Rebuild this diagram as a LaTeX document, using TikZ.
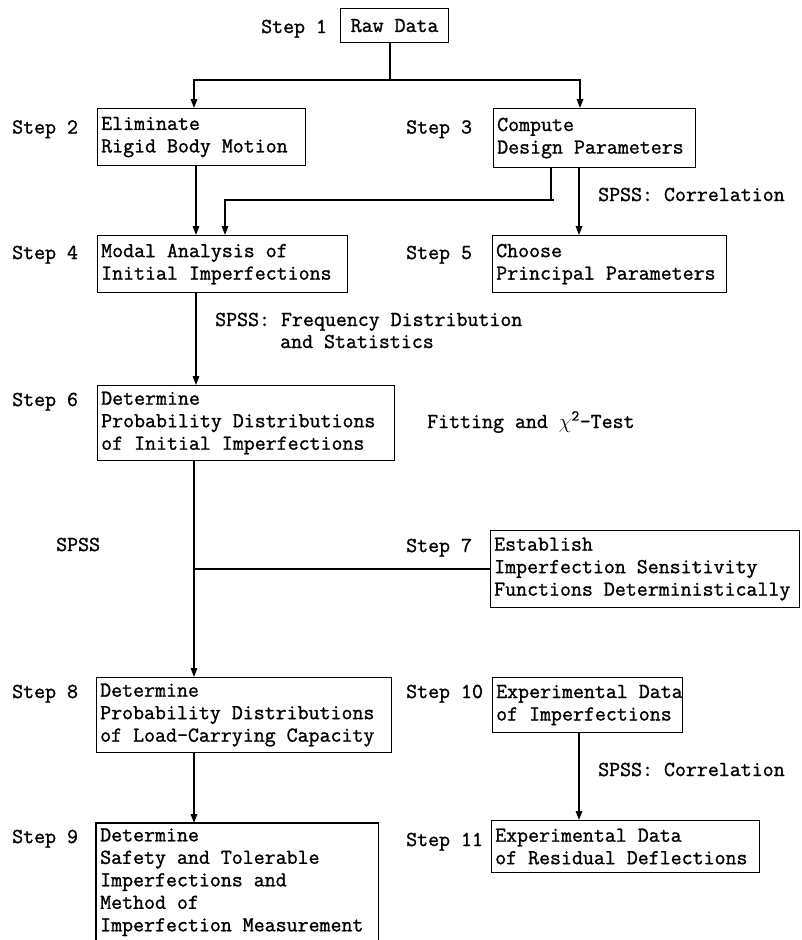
\documentclass[tikz,border=0pt]{standalone}
\usepackage{fontspec}
\newfontfamily\tw{Latin Modern Mono}[FakeBold=1.2]
\usetikzlibrary{arrows.meta}
\begin{document}
\begin{tikzpicture}[x=1pt,y=-1pt,
  font={\tw\fontsize{21.3}{22.5}\selectfont},
  box/.style={draw, line width=1.2pt, inner sep=0pt, anchor=north west},
  txt/.style={anchor=west, align=left, inner sep=0pt, xshift=4pt},
  lbl/.style={anchor=base west, inner sep=0pt},
  ln/.style={line width=1.6pt},
  arr/.style={ln, -{Triangle[length=9pt,width=6.5pt]}}]
\useasboundingbox (0,0) rectangle (801,940);

% boxes
\node[box, minimum width=108pt, minimum height=34pt] (s1) at (340,8) {};
\node[anchor=center, inner sep=0pt] (t1) at (s1.center) {Raw Data};
\node[box, minimum width=208pt, minimum height=57pt] (s2) at (97,108) {};
\node[txt] (t2) at (s2.west) {Eliminate\\Rigid Body Motion};
\node[box, minimum width=202pt, minimum height=59pt] (s3) at (493,108) {};
\node[txt] (t3) at (s3.west) {Compute\\Design Parameters};
\node[box, minimum width=250pt, minimum height=57pt] (s4) at (97,235) {};
\node[txt] (t4) at (s4.west) {Modal Analysis of\\Initial Imperfections};
\node[box, minimum width=234pt, minimum height=57pt] (s5) at (492,235) {};
\node[txt] (t5) at (s5.west) {Choose\\Principal Parameters};
\node[box, minimum width=297pt, minimum height=75pt] (s6) at (97,385) {};
\node[txt] (t6) at (s6.west) {Determine\\Probability Distributions\\of Initial Imperfections};
\node[box, minimum width=309pt, minimum height=77pt] (s7) at (490,530) {};
\node[txt] (t7) at (s7.west) {Establish\\Imperfection Sensitivity\\Functions Deterministically};
\node[box, minimum width=295pt, minimum height=75pt] (s8) at (96,677) {};
\node[txt] (t8) at (s8.west) {Determine\\Probability Distributions\\of Load-Carrying Capacity};
\node[box, minimum width=190pt, minimum height=55pt] (s10) at (492,677) {};
\node[txt] (t10) at (s10.west) {Experimental Data\\of Imperfections};
\node[box, minimum width=268pt, minimum height=52pt] (s11) at (491,820) {};
\node[txt] (t11) at (s11.west) {Experimental Data\\of Residual Deflections};
\node[inner sep=0pt, anchor=north west, minimum width=282pt, minimum height=118pt] (s9) at (96,823) {};
\draw[line width=1.2pt] (s9.south west) -- (s9.north west) -- (s9.north east) -- (s9.south east);
\node[txt] (t9) at (s9.west) {Determine\\Safety and Tolerable\\Imperfections and\\Method of\\Imperfection Measurement};

% step labels
\node[lbl] (l1) at (261,33) {Step 1};
\node[lbl] (l2) at (12,133.5) {Step 2};
\node[lbl] (l3) at (406,133.5) {Step 3};
\node[lbl] (l4) at (12,259) {Step 4};
\node[lbl] (l5) at (406,259) {Step 5};
\node[lbl] (l6) at (12,406) {Step 6};
\node[lbl] (l7) at (406,552) {Step 7};
\node[lbl] (l8) at (12,698) {Step 8};
\node[lbl] (l10) at (406,698) {Step 10};
\node[lbl] (l9) at (12,843) {Step 9};
\node[lbl] (l11) at (406,846) {Step 11};

% annotations
\node[lbl] (a1) at (598,201) {SPSS: Correlation};
\node[lbl] (a2) at (215,326) {SPSS: Frequency Distribution};
\node[lbl] (a3) at (280,348) {and Statistics};
\node[lbl] (a4) at (427,428) {Fitting and $\chi$\textsuperscript{2}-Test};
\node[lbl] (a5) at (56,551) {SPSS};
\node[lbl] (a6) at (598,776) {SPSS: Correlation};

% connectors
\coordinate (x1) at (390,0);
\coordinate (jl) at (194,80);
\coordinate (jr) at (580,80);
\draw[ln] (x1 |- s1.south) -- (x1 |- jl);
\draw[arr] (jr) -- (jl) -- (jl |- s2.north);
\draw[arr] (jl) -- (jr) -- (jr |- s3.north);

\coordinate (x24) at (196,0);
\draw[arr] (x24 |- s2.south) -- (x24 |- s4.north);
\coordinate (x3a) at (551,0);
\coordinate (j34) at (225,200);
\coordinate (j3e) at (554,200);
\draw[arr] (x3a |- s3.south) -- (x3a |- j34) -- (j34) -- (j34 |- s4.north);
\draw[ln] (x3a |- j34) -- (j3e);
\coordinate (x35) at (579,0);
\draw[arr] (x35 |- s3.south) -- (x35 |- s5.north);
\draw[arr] (x24 |- s4.south) -- (x24 |- s6.north);

\coordinate (x68) at (194,0);
\draw[arr] (x68 |- s6.south) -- (x68 |- s8.north);
\draw[ln] (s7.west) -- (s7.west -| x68);
\draw[arr] (x68 |- s8.south) -- (x68 |- s9.north);
\draw[arr] (x35 |- s10.south) -- (x35 |- s11.north);
\end{tikzpicture}
\end{document}
